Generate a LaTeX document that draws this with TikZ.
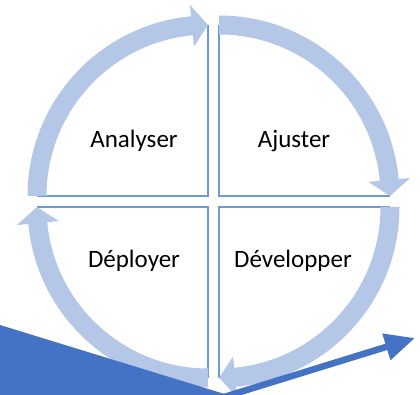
\documentclass[tikz,border=0pt]{standalone}
\usepackage{fontspec}
\setmainfont{Carlito}
\usetikzlibrary{arrows.meta}

\tikzset{
  band/.style={fill={rgb, 255:red, 180; green, 199; blue, 231 }},
  quadline/.style={draw={rgb, 255:red, 111; green, 155; blue, 213 }, line width=1.1pt},
  darkblue/.style={fill={rgb, 255:red, 68; green, 114; blue, 196 }},
  steplabel/.style={anchor=base, inner sep=0pt, font=\fontsize{18.75}{22}\selectfont},
  % one quadrant: two straight edges and the curved arrow round it, clockwise from angle #1
  pics/cyclearrow/.style={code={
    \pgfmathsetmacro{\bandend}{#1-84.6}
    \pgfmathsetmacro{\tipangle}{#1-90}
    \draw [quadline] (#1:171) -- (0,0) -- (\tipangle:171) ;
    \fill [band] (#1:180.5) arc [start angle=#1, end angle=\bandend, radius=180.5] -- (\bandend:192) -- (\tipangle:171) -- (\bandend:150) -- (\bandend:161.5) arc [start angle=\bandend, end angle=#1, radius=161.5] -- cycle ;
  }}
}

\begin{document}
\begin{tikzpicture}[x=0.75pt,y=0.75pt]
  \useasboundingbox (0,0) rectangle (420,395);
  % cycle
  \pic at (208,199) {cyclearrow=180};
  \pic at (219,199) {cyclearrow=90};
  \pic at (219,188) {cyclearrow=0};
  \pic at (208,188) {cyclearrow=270};
  % labels
  \node [steplabel] (analyser)   at (134,247) {Analyser};
  \node [steplabel] (ajuster)    at (294,247) {Ajuster};
  \node [steplabel] (deployer)   at (134,127) {Déployer};
  \node [steplabel] (developper) at (293,127) {Développer};
  % bottom shapes
  \fill [darkblue] (-2,70.6) -- (231,-1) -- (-2,-1) -- cycle ;
  \fill [white] (208,16) -- (219,17) -- (234,1) -- (226,3) -- (208,7) -- cycle ;
  \coordinate (arrowtail) at (224,-2);
  \coordinate (arrowtip)  at (415,57);
  \draw [draw={rgb, 255:red, 68; green, 114; blue, 196 }, line width=4.9pt, -{Triangle[length=22.5pt, width=19.5pt]}] (arrowtail) -- (arrowtip) ;
\end{tikzpicture}
\end{document}
